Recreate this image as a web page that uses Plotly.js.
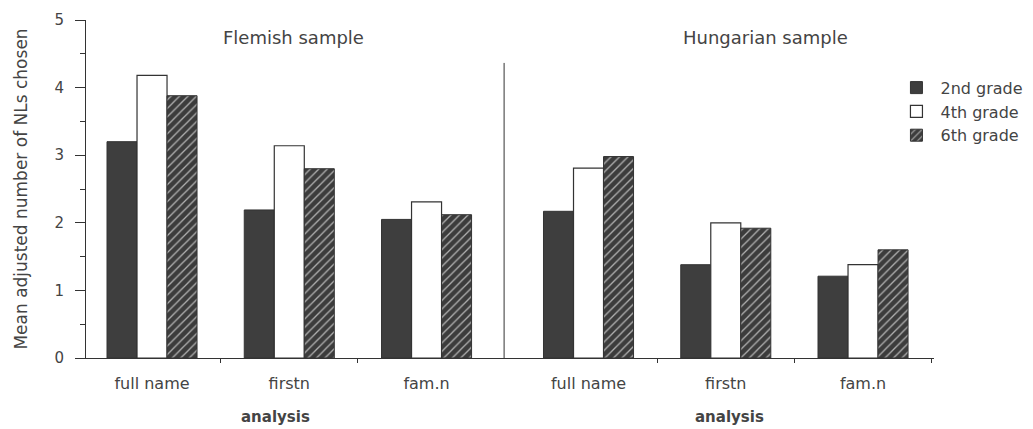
<!DOCTYPE html>
<html>
<head>
<meta charset="utf-8">
<script src="https://cdn.plot.ly/plotly-3.0.1.min.js"></script>
<style>
  html, body { margin: 0; padding: 0; background: #ffffff; }
  #chart { width: 1033px; height: 429px; }
</style>
</head>
<body>
<div id="chart"></div>
<script>
// ---- data ----
const categories = ["full name", "firstn", "fam.n", "full name", "firstn", "fam.n"];
const positions = [0.5, 1.5, 2.5, 3.68, 4.68, 5.68];   // Flemish: first 3, Hungarian: last 3
const slotBoundaries = [1, 2, 4.18, 5.18, 6.18];
const separatorX = 3.065;
const grade2 = [3.20, 2.19, 2.05, 2.17, 1.38, 1.21];
const grade4 = [4.18, 3.14, 2.31, 2.81, 2.00, 1.38];
const grade6 = [3.88, 2.80, 2.12, 2.98, 1.92, 1.60];
const seriesNames = ["2nd grade", "4th grade", "6th grade"];
const groupTitles = ["Flemish sample", "Hungarian sample"];
const xAxisTitle = "analysis";
const yAxisTitle = "Mean adjusted number of NLs chosen";

const txt = "#444444";
const edge = "#333333";
const font = "DejaVu Sans, sans-serif";

const traces = [
  {
    type: "bar", name: seriesNames[0], x: positions, y: grade2,
    marker: { color: "#3e3e3e", line: { color: edge, width: 1 } },
    hoverinfo: "skip"
  },
  {
    type: "bar", name: seriesNames[1], x: positions, y: grade4,
    marker: { color: "#ffffff", line: { color: edge, width: 1.2 } },
    hoverinfo: "skip"
  },
  {
    type: "bar", name: seriesNames[2], x: positions, y: grade6,
    marker: {
      color: "#404040",
      line: { color: edge, width: 1 },
      pattern: { shape: "/", fillmode: "replace", bgcolor: "#3c3c3c", fgcolor: "#b0b0b0", size: 6, solidity: 0.22 }
    },
    hoverinfo: "skip"
  }
];

const layout = {
  width: 1033, height: 429,
  margin: { l: 86, r: 99, t: 20, b: 71, autoexpand: false },
  paper_bgcolor: "#ffffff", plot_bgcolor: "#ffffff",
  font: { family: font, color: txt, size: 14 },
  barmode: "group", bargap: 0.344, bargroupgap: 0,
  showlegend: true,
  legend: {
    x: 0.951, y: 0.85, xanchor: "left", yanchor: "top",
    font: { family: font, size: 16, color: txt },
    bgcolor: "rgba(0,0,0,0)", tracegroupgap: 4, traceorder: "normal",
    itemwidth: 38
  },
  xaxis: {
    range: [0.019, 6.197],
    tickmode: "array", tickvals: positions, ticktext: categories,
    ticks: "", showgrid: false, zeroline: false,
    showline: true, linecolor: edge, linewidth: 1,
    tickfont: { family: font, size: 16, color: txt },
    ticklabelstandoff: 11,
    minor: { tickmode: "array", tickvals: slotBoundaries, ticks: "outside", ticklen: 4, tickcolor: edge, showgrid: false }
  },
  yaxis: {
    range: [0, 5], tickmode: "linear", tick0: 0, dtick: 1,
    ticks: "outside", ticklen: 10, tickcolor: edge, tickwidth: 1,
    showgrid: false, zeroline: false,
    showline: true, linecolor: edge, linewidth: 1,
    tickfont: { family: font, size: 15, color: txt },
    ticklabelstandoff: 8,
    minor: { dtick: 0.5, ticks: "outside", ticklen: 5, tickcolor: edge, showgrid: false },
    title: { text: yAxisTitle, font: { family: font, size: 17, color: txt }, standoff: 22 }
  },
  shapes: [
    { type: "line", xref: "x", yref: "paper", x0: separatorX, x1: separatorX, y0: 0, y1: 0.873,
      line: { color: edge, width: 1 } }
  ],
  annotations: [
    { text: groupTitles[0], x: 1.534, y: 0.947, xref: "x", yref: "paper", showarrow: false,
      xanchor: "center", yanchor: "middle",
      font: { family: font, size: 18, color: txt } },
    { text: groupTitles[1], x: 4.973, y: 0.947, xref: "x", yref: "paper", showarrow: false,
      xanchor: "center", yanchor: "middle",
      font: { family: font, size: 18, color: txt } },
    { text: "<b>" + xAxisTitle + "</b>", x: 1.40, y: -0.176, xref: "x", yref: "paper", showarrow: false,
      xanchor: "center", yanchor: "middle",
      font: { family: font, size: 15, color: txt } },
    { text: "<b>" + xAxisTitle + "</b>", x: 4.71, y: -0.176, xref: "x", yref: "paper", showarrow: false,
      xanchor: "center", yanchor: "middle",
      font: { family: font, size: 15, color: txt } }
  ]
};

Plotly.newPlot("chart", traces, layout, { staticPlot: true, displayModeBar: false });
</script>
</body>
</html>
